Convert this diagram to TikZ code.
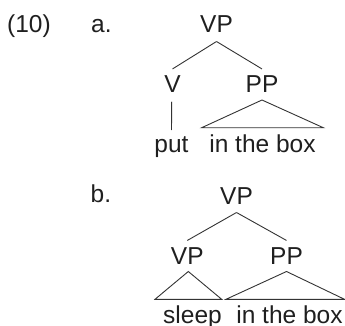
\documentclass[tikz,border=0pt]{standalone}
\usepackage{fontspec}
\setmainfont{Liberation Sans}
\begin{document}
\begin{tikzpicture}[x=1pt,y=-1pt,
  lbl/.style={inner sep=0pt,anchor=base,text=black!88,font=\fontsize{24.5}{29}\selectfont},
  numlbl/.style={lbl,anchor=base west},
  branch/.style={draw=black!80,line width=0.9pt},
  roof/.style={draw=black!80,line width=0.9pt,line join=miter}]
\useasboundingbox (0,0) rectangle (345,326);

% example number and sub-labels
\node[numlbl] (ex) at (7,32.5) {(10)};
\node[numlbl] (la) at (91,32.5) {a.};
\node[numlbl] (lb) at (90.5,202.5) {b.};

% tree (a)
\node[lbl] (vpa) at (216.5,32.5) {VP};
\node[lbl] (va)  at (172.5,93) {V};
\node[lbl] (ppa) at (262,93) {PP};
\node[lbl] (puta) at (171.5,152.5) {put};
\node[lbl] (boxa) at (262.5,152.5) {in the box};
\coordinate (ppaL) at (201.7,127.7);
\coordinate (ppaR) at (323.3,127.7);

\draw[branch] ([yshift=-9pt]vpa.base) -- ([yshift=7pt]va.north);
\draw[branch] ([yshift=-9pt]vpa.base) -- ([yshift=7pt]ppa.north);
\draw[branch] ([xshift=-0.8pt,yshift=-8.7pt]va.base) -- ([yshift=22.5pt]puta.base);
\draw[roof] (ppaL) -- ([yshift=-7pt]ppa.base) -- (ppaR) -- cycle;

% tree (b)
\node[lbl] (vpb) at (236.5,204) {VP};
\node[lbl] (vpc) at (187.3,264.5) {VP};
\node[lbl] (ppb) at (286.5,264.5) {PP};
\node[lbl] (sleepb) at (192.5,323) {sleep};
\node[lbl] (boxb) at (289.5,323) {in the box};
\coordinate (vpcL) at (155,299.3);
\coordinate (vpcR) at (221.7,299.3);
\coordinate (ppbL) at (226,299.3);
\coordinate (ppbR) at (344.5,299.3);

\draw[branch] ([yshift=-8.5pt]vpb.base) -- ([yshift=7pt]vpc.north);
\draw[branch] ([yshift=-8.5pt]vpb.base) -- ([yshift=7pt]ppb.north);
\draw[roof] (vpcL) -- ([xshift=1pt,yshift=-7pt]vpc.base) -- (vpcR) -- cycle;
\draw[roof] (ppbL) -- ([yshift=-7pt]ppb.base) -- (ppbR) -- cycle;
\end{tikzpicture}
\end{document}
